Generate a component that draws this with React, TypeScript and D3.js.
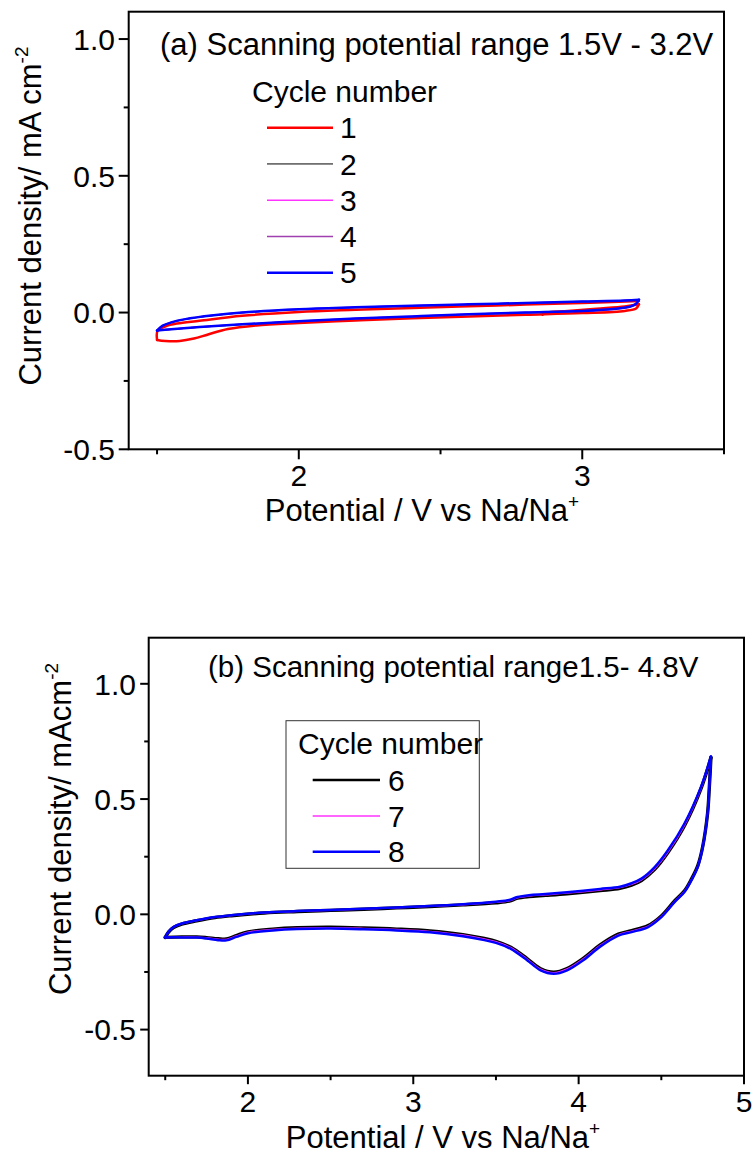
import React from "react";
import * as d3 from "d3";

// ---------- Panel (a) data: scanning 1.5 V – 3.2 V ----------
const A_UP_V = [1.50, 1.52, 1.55, 1.60, 1.70, 1.80, 2.00, 2.20, 2.40, 2.60, 2.80, 3.00, 3.15, 3.20];
const A_DOWN_V = [3.20, 3.19, 3.17, 3.12, 3.00, 2.80, 2.60, 2.40, 2.20, 2.00, 1.80, 1.65, 1.55, 1.50];

const A2_UP = [-0.067, -0.049, -0.037, -0.025, -0.011, -0.001, 0.011, 0.018, 0.024, 0.029, 0.034, 0.039, 0.043, 0.046];
const A2_DOWN = [0.046, 0.031, 0.021, 0.013, 0.005, -0.001, -0.007, -0.015, -0.023, -0.033, -0.044, -0.054, -0.062, -0.067];
const A3_UP = [-0.066, -0.049, -0.036, -0.024, -0.010, 0.000, 0.011, 0.019, 0.025, 0.030, 0.035, 0.040, 0.044, 0.047];
const A3_DOWN = [0.047, 0.032, 0.022, 0.013, 0.006, 0.000, -0.006, -0.014, -0.022, -0.032, -0.043, -0.053, -0.061, -0.066];
const A4_UP = [-0.066, -0.048, -0.036, -0.024, -0.010, 0.000, 0.012, 0.019, 0.025, 0.030, 0.035, 0.040, 0.044, 0.047];
const A4_DOWN = [0.047, 0.032, 0.022, 0.014, 0.006, 0.000, -0.006, -0.014, -0.022, -0.032, -0.043, -0.053, -0.061, -0.066];
const A5_UP = [-0.066, -0.048, -0.036, -0.024, -0.010, 0.000, 0.012, 0.019, 0.025, 0.030, 0.035, 0.040, 0.044, 0.047];
const A5_DOWN = [0.047, 0.032, 0.022, 0.014, 0.006, 0.000, -0.006, -0.014, -0.022, -0.032, -0.043, -0.053, -0.061, -0.066];

// cycle 1 (starts at open circuit ~2.86 V)
const A1_START_V = [2.86, 2.865, 2.95, 3.05, 3.15, 3.20];
const A1_START = [-0.008, -0.002, 0.006, 0.014, 0.022, 0.030];
const A1_DOWN_V = [3.20, 3.19, 3.15, 3.00, 2.80, 2.60, 2.40, 2.20, 2.00, 1.85, 1.75, 1.68, 1.63, 1.58, 1.53, 1.50];
const A1_DOWN = [0.030, 0.015, 0.006, -0.002, -0.008, -0.014, -0.021, -0.029, -0.038, -0.047, -0.060, -0.080, -0.095, -0.104, -0.104, -0.100];
const A1_UP_V = [1.50, 1.502, 1.53, 1.57, 1.65, 1.80, 2.00, 2.20, 2.40, 2.60, 2.80, 3.00, 3.20];
const A1_UP = [-0.100, -0.066, -0.050, -0.040, -0.030, -0.012, 0.002, 0.010, 0.017, 0.023, 0.029, 0.035, 0.042];

// ---------- Panel (b) data: scanning 1.5 V – 4.8 V ----------
const B_UP_V = [1.50, 1.52, 1.55, 1.60, 1.69, 1.80, 1.90, 2.10, 2.30, 2.50, 2.70, 2.90, 3.10, 3.30, 3.50, 3.58, 3.63, 3.70, 3.80, 3.93, 4.13, 4.25, 4.32, 4.38, 4.46, 4.54, 4.64, 4.74, 4.80];
const B_DOWN_V = [4.80, 4.79, 4.78, 4.75, 4.72, 4.68, 4.64, 4.58, 4.50, 4.42, 4.32, 4.24, 4.13, 4.03, 3.93, 3.85, 3.77, 3.69, 3.59, 3.50, 3.43, 3.30, 3.10, 2.90, 2.70, 2.50, 2.30, 2.15, 2.00, 1.93, 1.87, 1.82, 1.75, 1.69, 1.60, 1.50];

const B6_UP = [-0.100, -0.077, -0.057, -0.042, -0.028, -0.014, -0.006, 0.006, 0.012, 0.017, 0.022, 0.028, 0.034, 0.041, 0.050, 0.057, 0.070, 0.077, 0.082, 0.089, 0.103, 0.113, 0.127, 0.147, 0.195, 0.268, 0.384, 0.545, 0.680];
const B6_DOWN = [0.680, 0.547, 0.440, 0.293, 0.210, 0.150, 0.102, 0.058, -0.007, -0.049, -0.071, -0.086, -0.133, -0.190, -0.235, -0.251, -0.236, -0.193, -0.143, -0.117, -0.105, -0.088, -0.072, -0.064, -0.059, -0.056, -0.058, -0.064, -0.076, -0.092, -0.107, -0.106, -0.101, -0.098, -0.098, -0.100];
const B7_UP = [-0.100, -0.076, -0.056, -0.041, -0.027, -0.013, -0.005, 0.007, 0.013, 0.018, 0.023, 0.029, 0.035, 0.042, 0.052, 0.059, 0.072, 0.080, 0.085, 0.092, 0.106, 0.116, 0.130, 0.150, 0.198, 0.270, 0.386, 0.546, 0.680];
const B7_DOWN = [0.680, 0.548, 0.440, 0.292, 0.208, 0.148, 0.100, 0.056, -0.009, -0.051, -0.073, -0.088, -0.135, -0.192, -0.237, -0.253, -0.238, -0.195, -0.145, -0.119, -0.107, -0.090, -0.074, -0.066, -0.061, -0.058, -0.060, -0.066, -0.078, -0.094, -0.109, -0.108, -0.102, -0.099, -0.099, -0.100];
const B8_UP = [-0.100, -0.075, -0.055, -0.040, -0.026, -0.012, -0.004, 0.008, 0.014, 0.019, 0.024, 0.030, 0.036, 0.044, 0.055, 0.062, 0.075, 0.083, 0.088, 0.096, 0.110, 0.120, 0.135, 0.155, 0.205, 0.278, 0.394, 0.553, 0.685];
const B8_DOWN = [0.685, 0.550, 0.440, 0.290, 0.205, 0.145, 0.097, 0.053, -0.012, -0.055, -0.077, -0.092, -0.140, -0.198, -0.243, -0.258, -0.243, -0.200, -0.150, -0.124, -0.112, -0.095, -0.078, -0.070, -0.065, -0.062, -0.064, -0.070, -0.082, -0.098, -0.113, -0.112, -0.105, -0.101, -0.100, -0.100];

// ---------- ticks / labels ----------
const A_X_MAJOR = [2, 3];
const A_X_MINOR = [1.5, 2.5, 3.5];
const B_X_MAJOR = [2, 3, 4, 5];
const B_X_MINOR = [1.5, 2.5, 3.5, 4.5];
const Y_MAJOR = [-0.5, 0, 0.5, 1.0];
const Y_MINOR = [-0.25, 0.25, 0.75];

const A_CYCLES = ["1", "2", "3", "4", "5"];
const B_CYCLES = ["6", "7", "8"];

const FONT = "'Liberation Sans', Arial, Helvetica, sans-serif";

type Seg = { v: number[]; i: number[] };
type Series = { name: string; color: string; width: number; legendWidth: number; segs: Seg[] };

const A_SERIES: Series[] = [
  { name: "1", color: "#ff0000", width: 2.5, legendWidth: 2.5, segs: [{ v: A1_START_V, i: A1_START }, { v: A1_DOWN_V, i: A1_DOWN }, { v: A1_UP_V, i: A1_UP }] },
  { name: "2", color: "#000000", width: 1, legendWidth: 1, segs: [{ v: A_UP_V, i: A2_UP }, { v: A_DOWN_V, i: A2_DOWN }] },
  { name: "3", color: "#ff33ff", width: 1.5, legendWidth: 1.5, segs: [{ v: A_UP_V, i: A3_UP }, { v: A_DOWN_V, i: A3_DOWN }] },
  { name: "4", color: "#a040b0", width: 1.5, legendWidth: 1.5, segs: [{ v: A_UP_V, i: A4_UP }, { v: A_DOWN_V, i: A4_DOWN }] },
  { name: "5", color: "#0000ff", width: 2.5, legendWidth: 2.5, segs: [{ v: A_UP_V, i: A5_UP }, { v: A_DOWN_V, i: A5_DOWN }] },
];

const B_SERIES: Series[] = [
  { name: "6", color: "#000000", width: 3.4, legendWidth: 2.5, segs: [{ v: B_UP_V, i: B6_UP }, { v: B_DOWN_V, i: B6_DOWN }] },
  { name: "7", color: "#ff33ff", width: 1.5, legendWidth: 1.5, segs: [{ v: B_UP_V, i: B7_UP }, { v: B_DOWN_V, i: B7_DOWN }] },
  { name: "8", color: "#0000ff", width: 2.5, legendWidth: 2.5, segs: [{ v: B_UP_V, i: B8_UP }, { v: B_DOWN_V, i: B8_DOWN }] },
];

type PanelProps = {
  x0: number; x1: number; y0: number; y1: number;
  xDomain: [number, number]; yDomain: [number, number];
  xMajor: number[]; xMinor: number[];
  series: Series[];
  title: string; titleX: number; titleY: number; titleSize: number;
  yLabelMain: string; yLabelX: number; yLabelY: number;
  xLabelX: number; xLabelY: number;
  majorLen: number; minorLen: number;
  yTickLabelX: number; xTickLabelDy: number;
  legend: { names: string[]; boxed: boolean; box?: [number, number, number, number]; headX: number; headY: number; lineX0: number; lineX1: number; firstY: number; step: number; labelX: number };
};

function Panel(p: PanelProps) {
  const x = d3.scaleLinear().domain(p.xDomain).range([p.x0, p.x1]);
  const y = d3.scaleLinear().domain(p.yDomain).range([p.y1, p.y0]);
  const line = d3
    .line<[number, number]>()
    .x((d) => x(d[0]))
    .y((d) => y(d[1]))
    .curve(d3.curveCatmullRom.alpha(0.5));

  const byName: Record<string, Series> = {};
  p.series.forEach((s) => (byName[s.name] = s));

  return (
    <g fontFamily={FONT} fill="#000">
      {/* curves */}
      <g fill="none" strokeLinejoin="round" strokeLinecap="round">
        {p.series.map((s) =>
          s.segs.map((seg, k) => (
            <path
              key={s.name + "-" + k}
              d={line(seg.v.map((v, j) => [v, seg.i[j]] as [number, number])) || ""}
              stroke={s.color}
              strokeWidth={s.width}
            />
          ))
        )}
      </g>
      {/* frame */}
      <rect x={p.x0} y={p.y0} width={p.x1 - p.x0} height={p.y1 - p.y0} fill="none" stroke="#000" strokeWidth={2} />
      {/* x ticks */}
      {p.xMajor.map((t) => (
        <g key={"xM" + t}>
          <line x1={x(t)} x2={x(t)} y1={p.y1} y2={p.y1 + p.majorLen} stroke="#000" strokeWidth={2} />
          <text x={x(t)} y={p.y1 + p.xTickLabelDy} fontSize={30} textAnchor="middle">{String(t)}</text>
        </g>
      ))}
      {p.xMinor.map((t) => (
        <line key={"xm" + t} x1={x(t)} x2={x(t)} y1={p.y1} y2={p.y1 + p.minorLen} stroke="#000" strokeWidth={2} />
      ))}
      {/* y ticks */}
      {Y_MAJOR.map((t) => (
        <g key={"yM" + t}>
          <line x1={p.x0 - p.majorLen} x2={p.x0} y1={y(t)} y2={y(t)} stroke="#000" strokeWidth={2} />
          <text x={p.yTickLabelX} y={y(t) + 10.8} fontSize={30} textAnchor="end">{d3.format(".1f")(t).replace("−", "-")}</text>
        </g>
      ))}
      {Y_MINOR.map((t) => (
        <line key={"ym" + t} x1={p.x0 - p.minorLen} x2={p.x0} y1={y(t)} y2={y(t)} stroke="#000" strokeWidth={2} />
      ))}
      {/* title */}
      <text x={p.titleX} y={p.titleY} fontSize={p.titleSize}>{p.title}</text>
      {/* axis labels */}
      <text x={p.xLabelX} y={p.xLabelY} fontSize={31} textAnchor="middle">
        Potential / V vs Na/Na<tspan fontSize={19} dy={-13}>+</tspan>
      </text>
      <text transform={`translate(${p.yLabelX},${p.yLabelY}) rotate(-90)`} fontSize={31} textAnchor="middle">
        {p.yLabelMain}<tspan fontSize={19} dy={-13}>-2</tspan>
      </text>
      {/* legend */}
      {p.legend.boxed && p.legend.box && (
        <rect x={p.legend.box[0]} y={p.legend.box[1]} width={p.legend.box[2] - p.legend.box[0]} height={p.legend.box[3] - p.legend.box[1]} fill="none" stroke="#333" strokeWidth={1} />
      )}
      <text x={p.legend.headX} y={p.legend.headY} fontSize={30}>Cycle number</text>
      {p.legend.names.map((n, k) => {
        const s = byName[n];
        const ly = p.legend.firstY + k * p.legend.step;
        return (
          <g key={"lg" + n}>
            <line x1={p.legend.lineX0} x2={p.legend.lineX1} y1={ly} y2={ly} stroke={s.color} strokeWidth={s.legendWidth} />
            <text x={p.legend.labelX} y={ly + 10.6} fontSize={30}>{n}</text>
          </g>
        );
      })}
    </g>
  );
}

export default function App() {
  return (
    <svg width={755} height={1157} style={{ position: "absolute", left: 0, top: 0, background: "#fff" }}>
      <rect width={755} height={1157} fill="#fff" />
      <Panel
        x0={128.7} x1={724} y0={11.7} y1={449.3}
        xDomain={[1.4, 3.5]} yDomain={[-0.5, 1.1]}
        xMajor={A_X_MAJOR} xMinor={A_X_MINOR}
        series={A_SERIES}
        title="(a) Scanning potential range 1.5V - 3.2V" titleX={160} titleY={55} titleSize={31}
        yLabelMain="Current density/ mA cm" yLabelX={41} yLabelY={216}
        xLabelX={422} xLabelY={521}
        majorLen={10} minorLen={5}
        yTickLabelX={115} xTickLabelDy={36.7}
        legend={{ names: A_CYCLES, boxed: false, headX: 252, headY: 102, lineX0: 267, lineX1: 333, firstY: 127.7, step: 36.25, labelX: 340 }}
      />
      <Panel
        x0={148.7} x1={744} y0={637.7} y1={1075.7}
        xDomain={[1.4, 5.0]} yDomain={[-0.7, 1.2]}
        xMajor={B_X_MAJOR} xMinor={B_X_MINOR}
        series={B_SERIES}
        title="(b) Scanning potential range1.5- 4.8V" titleX={208} titleY={677} titleSize={29.5}
        yLabelMain="Current density/ mAcm" yLabelX={71} yLabelY={829}
        xLabelX={443} xLabelY={1148}
        majorLen={8.5} minorLen={4.5}
        yTickLabelX={136} xTickLabelDy={36.3}
        legend={{ names: B_CYCLES, boxed: true, box: [286, 720.7, 479.3, 868.3], headX: 298, headY: 754, lineX0: 312.7, lineX1: 380, firstY: 780, step: 35.9, labelX: 388 }}
      />
    </svg>
  );
}
